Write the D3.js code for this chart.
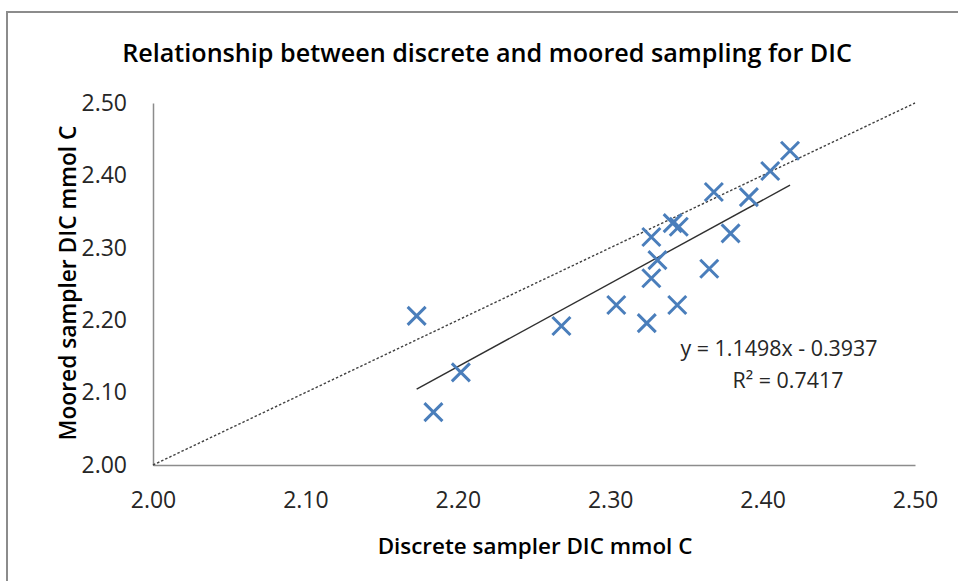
<!DOCTYPE html>
<html>
<head>
<meta charset="utf-8">
<script src="https://cdn.jsdelivr.net/npm/d3@7"></script>
<style>
  body { margin: 0; background: #fff; }
  svg { display: block; font-family: "Open Sans", sans-serif; }
</style>
</head>
<body>
<div id="chart"></div>
<script>
// valeurs
const xTicks = [2.0, 2.1, 2.2, 2.3, 2.4, 2.5];
const yTicks = [2.0, 2.1, 2.2, 2.3, 2.4, 2.5];
const discrete = [2.173, 2.184, 2.202, 2.268, 2.304, 2.324, 2.344, 2.327, 2.331,
                  2.327, 2.341, 2.345, 2.365, 2.379, 2.368, 2.391, 2.405, 2.418];
const moored = [2.206, 2.073, 2.128, 2.192, 2.221, 2.196, 2.221, 2.258, 2.283,
                2.315, 2.334, 2.329, 2.271, 2.320, 2.377, 2.370, 2.406, 2.434];
const slope = 1.1498;
const intercept = -0.3937;
const r2 = 0.7417;

const W = 958, H = 581;
const margin = { top: 103, right: 43, bottom: 116, left: 153 };
const width = W - margin.left - margin.right;
const height = H - margin.top - margin.bottom;

const root = d3.select("#chart").append("svg")
  .attr("width", W)
  .attr("height", H);

// cadre du graphique
root.append("rect")
  .attr("x", 7).attr("y", 12)
  .attr("width", W + 20).attr("height", H + 20)
  .attr("fill", "none")
  .attr("stroke", "#8c8c8c")
  .attr("stroke-width", 2);

// ajuste la taille de police pour obtenir la largeur voulue
function fit(sel, w) {
  const len = sel.node().getComputedTextLength();
  const fs = parseFloat(sel.attr("font-size"));
  sel.attr("font-size", (fs * w / len).toFixed(2));
  return sel;
}

const title = root.append("text")
  .attr("x", 487).attr("y", 62)
  .attr("text-anchor", "middle")
  .attr("font-size", 24)
  .attr("font-weight", 600)
  .attr("fill", "#000")
  .text("Relationship between discrete and moored sampling for DIC");
fit(title, 730);

const svg = root.append("g")
  .attr("transform", `translate(${margin.left},${margin.top})`);

const x = d3.scaleLinear().domain([2.0, 2.5]).range([0, width]);
const y = d3.scaleLinear().domain([2.0, 2.5]).range([height, 0]);

const xAxis = svg.append("g")
  .attr("transform", `translate(0,${height})`)
  .call(d3.axisBottom(x).tickValues(xTicks).tickSize(0).tickPadding(27)
    .tickFormat(d3.format(".2f")));

const yAxis = svg.append("g")
  .call(d3.axisLeft(y).tickValues(yTicks).tickSize(0).tickPadding(26)
    .tickFormat(d3.format(".2f")));

[xAxis, yAxis].forEach(a => {
  a.select(".domain").attr("stroke", "#8c8c8c").attr("stroke-width", 1.5);
  a.selectAll("text")
    .attr("font-family", "Open Sans, sans-serif")
    .attr("font-size", 23)
    .attr("fill", "#262626");
});

// libellés des axes
const xLabel = root.append("text")
  .attr("x", 535).attr("y", 554)
  .attr("text-anchor", "middle")
  .attr("font-size", 20)
  .attr("font-weight", 600)
  .text("Discrete sampler DIC mmol C");
fit(xLabel, 315);

const yLabel = root.append("text")
  .attr("transform", "translate(76,283) rotate(-90)")
  .attr("text-anchor", "middle")
  .attr("font-size", 20)
  .attr("font-weight", 600)
  .text("Moored sampler DIC mmol C");
fit(yLabel, 315);

// ligne 1:1 en pointillé
svg.append("line")
  .attr("x1", x(2.0)).attr("y1", y(2.0))
  .attr("x2", x(2.5)).attr("y2", y(2.5))
  .attr("stroke", "#404040")
  .attr("stroke-width", 1.4)
  .attr("stroke-dasharray", "2.5,2");

// droite de régression
const xr = d3.extent(discrete);
const line = d3.line()
  .x(d => x(d))
  .y(d => y(slope * d + intercept));

svg.append("path")
  .datum(xr)
  .attr("fill", "none")
  .attr("stroke", "#303030")
  .attr("stroke-width", 1.4)
  .attr("d", line);

// points en croix
svg.selectAll(".pt")
  .data(discrete)
  .enter()
  .append("path")
  .attr("class", "pt")
  .attr("transform", (d, i) => `translate(${x(d)},${y(moored[i])})`)
  .attr("d", "M-9,-9L9,9M-9,9L9,-9")
  .attr("stroke", "#4a7ebb")
  .attr("stroke-width", 3)
  .attr("fill", "none");

// équation
const eq = root.append("text")
  .attr("x", 779).attr("y", 356)
  .attr("text-anchor", "middle")
  .attr("font-size", 21)
  .attr("fill", "#262626")
  .text(`y = ${slope}x - ${Math.abs(intercept)}`);
fit(eq, 197);

const rt = root.append("text")
  .attr("x", 788).attr("y", 388)
  .attr("text-anchor", "middle")
  .attr("font-size", eq.attr("font-size"))
  .attr("fill", "#262626")
  .text(`R² = ${r2}`);
</script>
</body>
</html>
